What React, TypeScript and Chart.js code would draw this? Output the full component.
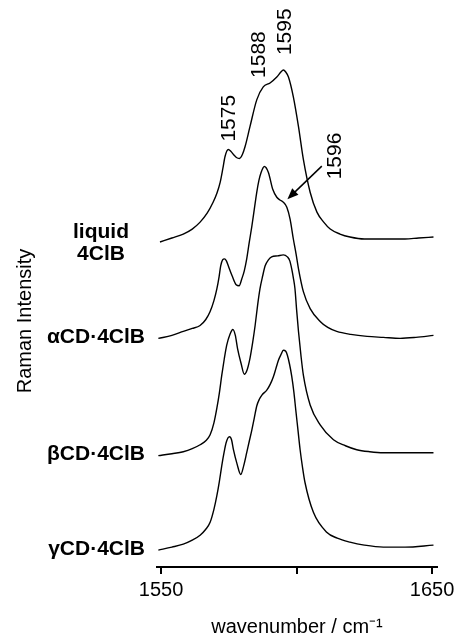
import React, { useEffect, useRef } from "react";
import { Chart, registerables } from "chart.js";

Chart.register(...registerables);

const FONT = "'Liberation Sans', Arial, Helvetica, sans-serif";

// ---- data (wavenumber in cm^-1, intensity in arbitrary units) ----
const liquidWn = [1549.6, 1554, 1558.2, 1561.5, 1564.4, 1567, 1569.2, 1570.6, 1571.8, 1572.8, 1573.6, 1574.8, 1575.8, 1576.7, 1577.8, 1578.9, 1580, 1581, 1582.8, 1585.3, 1587.7, 1590.2, 1592.7, 1594.2, 1595.1, 1596, 1597, 1598.8, 1600.7, 1602.5, 1605, 1607.5, 1610, 1612.4, 1616, 1619.7, 1625, 1632, 1640, 1645, 1650.5];
const liquidI = [-2, 2, 6, 11, 18, 27, 38, 47, 58, 72, 84, 91, 89, 86, 83, 82, 86, 94, 114, 141, 154, 158, 164, 169, 171, 169, 164, 144, 114, 81, 48, 28, 18, 11, 6, 3, 1, 1, 1, 2, 3];

const alphaWn = [1549.0, 1554, 1558.2, 1561.5, 1564.4, 1566.5, 1568.1, 1569.5, 1570.6, 1571.4, 1572.0, 1572.7, 1573.4, 1574.1, 1574.8, 1576.2, 1577.7, 1578.8, 1579.8, 1580.7, 1581.6, 1582.5, 1583.5, 1584.4, 1585.3, 1586.1, 1586.9, 1588.1, 1589.6, 1591.2, 1592.7, 1594, 1595.1, 1596.4, 1597.6, 1598.8, 1599.8, 1600.7, 1602.5, 1605, 1608.7, 1611.5, 1614.8, 1620, 1626, 1632, 1638.2, 1644, 1650.5];
const alphaI = [-1, 2, 6, 9, 12, 18, 26, 37, 49, 61, 72, 78, 79, 77, 72, 62, 53, 52, 59, 67, 79, 95, 112, 129, 146, 158, 166, 172, 166, 149, 141, 138, 136, 131, 119, 99, 84, 69, 46, 29, 16, 10, 6, 3, 1, 0, -1, 0, 2];

const betaWn = [1549.0, 1554, 1558.2, 1561.5, 1564.4, 1566.5, 1568.1, 1569.5, 1570.6, 1571.5, 1572.4, 1573.3, 1574.2, 1575.4, 1576.5, 1577.4, 1578.2, 1579.5, 1580.7, 1581.7, 1582.8, 1583.8, 1584.7, 1585.6, 1586.5, 1587.5, 1588.4, 1589.6, 1590.8, 1593, 1595.1, 1596.6, 1597.5, 1598.2, 1598.8, 1599.4, 1600.0, 1600.7, 1601.6, 1602.5, 1605, 1608.7, 1613.6, 1618, 1622.2, 1627, 1632, 1640, 1650.5];
const betaI = [-1, 1, 3, 6, 10, 14, 20, 32, 47, 62, 80, 96, 110, 121, 126, 120, 107, 92, 81, 85, 97, 113, 130, 150, 167, 180, 190, 196, 199, 200, 201, 199, 195, 187, 178, 167, 146, 124, 100, 80, 50, 30, 15, 9, 5, 3, 2, 2, 2];

const gammaWn = [1549.0, 1554, 1558.2, 1561.5, 1564.4, 1566.5, 1568.1, 1569.5, 1570.6, 1571.5, 1572.4, 1573.3, 1574.0, 1575.2, 1576.0, 1576.7, 1578.0, 1579.4, 1580.5, 1581.6, 1582.5, 1583.5, 1584.4, 1585.3, 1586.3, 1587.2, 1589.0, 1590.3, 1591.5, 1592.4, 1593.3, 1594.3, 1595.1, 1596.0, 1596.6, 1597.4, 1598.2, 1599.0, 1599.7, 1600.5, 1601.3, 1602.2, 1603.1, 1606.2, 1611.1, 1615, 1619.7, 1625, 1632, 1640, 1650.5];
const gammaI = [-1, 2, 5, 9, 14, 20, 27, 40, 54, 68, 84, 98, 107, 113, 110, 100, 86, 75, 84, 97, 108, 120, 132, 144, 151, 155, 160, 166, 174, 182, 190, 196, 200, 199, 195, 186, 174, 158, 140, 120, 100, 82, 67, 37, 17, 11, 7, 4, 2, 2, 4];

const seriesNames = ["liquid\n4ClB", "αCD·4ClB", "βCD·4ClB", "γCD·4ClB"];
const seriesOffsets = [329, 231, 113, 18];
const seriesWn = [liquidWn, alphaWn, betaWn, gammaWn];
const seriesI = [liquidI, alphaI, betaI, gammaI];

const xTickValues = [1550, 1600, 1650];
const xTickLabels = ["1550", "", "1650"];

const peakLabels = ["1575", "1588", "1595", "1596"];
const peakLabelWn = [1575.1, 1586.3, 1595.9, 1614.4];
const peakLabelY = [428, 492, 515, 390];
const arrowFrom = [1609.3, 403.3];
const arrowTo = [1596.6, 370];

const annotationPlugin = {
  id: "ramanAnnotations",
  afterDatasetsDraw(chart: any) {
    const { ctx, chartArea, scales } = chart;
    const x = scales.x;
    const y = scales.y;
    ctx.save();
    ctx.fillStyle = "#000";
    ctx.strokeStyle = "#000";

    // series labels
    ctx.font = `bold 21px ${FONT}`;
    ctx.textBaseline = "middle";
    seriesNames.forEach((name, i) => {
      const lines = name.split("\n");
      const py = y.getPixelForValue(seriesOffsets[i]);
      if (lines.length === 1) {
        ctx.textAlign = "right";
        ctx.fillText(name, chartArea.left - 12, py);
      } else {
        ctx.textAlign = "center";
        lines.forEach((ln, j) => {
          ctx.fillText(ln, chartArea.left - 56, py + 3 + (j - (lines.length - 1) / 2) * 22);
        });
      }
    });

    // peak labels (rotated)
    ctx.font = `21px ${FONT}`;
    peakLabels.forEach((t, i) => {
      ctx.save();
      ctx.translate(x.getPixelForValue(peakLabelWn[i]), y.getPixelForValue(peakLabelY[i]));
      ctx.rotate(-Math.PI / 2);
      ctx.textAlign = "left";
      ctx.textBaseline = "middle";
      ctx.fillText(t, 0, 0);
      ctx.restore();
    });

    // arrow
    const x1 = x.getPixelForValue(arrowFrom[0]);
    const y1 = y.getPixelForValue(arrowFrom[1]);
    const x2 = x.getPixelForValue(arrowTo[0]);
    const y2 = y.getPixelForValue(arrowTo[1]);
    const ang = Math.atan2(y2 - y1, x2 - x1);
    const headLen = 11;
    const headW = 4.5;
    ctx.lineWidth = 1.5;
    ctx.beginPath();
    ctx.moveTo(x1, y1);
    ctx.lineTo(x2 - Math.cos(ang) * headLen * 0.8, y2 - Math.sin(ang) * headLen * 0.8);
    ctx.stroke();
    ctx.beginPath();
    ctx.moveTo(x2, y2);
    ctx.lineTo(
      x2 - Math.cos(ang) * headLen + Math.sin(ang) * headW,
      y2 - Math.sin(ang) * headLen - Math.cos(ang) * headW
    );
    ctx.lineTo(
      x2 - Math.cos(ang) * headLen - Math.sin(ang) * headW,
      y2 - Math.sin(ang) * headLen + Math.cos(ang) * headW
    );
    ctx.closePath();
    ctx.fill();
    ctx.restore();
  },
};

export default function App() {
  const ref = useRef<HTMLCanvasElement | null>(null);

  useEffect(() => {
    if (!ref.current) return;
    const datasets = seriesNames.map((name, i) => ({
      label: name.replace("\n", " "),
      data: seriesWn[i].map((w, k) => ({ x: w, y: seriesI[i][k] + seriesOffsets[i] })),
      borderColor: "#000",
      backgroundColor: "#000",
      borderWidth: 1.4,
      pointRadius: 0,
      cubicInterpolationMode: "monotone" as const,
      fill: false,
      clip: false as any,
    }));

    const chart = new Chart(ref.current, {
      type: "line",
      data: { datasets },
      plugins: [annotationPlugin],
      options: {
        animation: false,
        responsive: false,
        devicePixelRatio: 1,
        layout: { padding: { top: 75, right: 21, bottom: 1, left: 0 } },
        plugins: { legend: { display: false }, tooltip: { enabled: false } },
        scales: {
          x: {
            type: "linear",
            min: 1548.5,
            max: 1651.8,
            afterBuildTicks: (scale: any) => {
              scale.ticks = xTickValues.map((v) => ({ value: v }));
            },
            ticks: {
              color: "#000",
              font: { family: FONT, size: 20, lineHeight: 1.3 },
              padding: 3,
              maxRotation: 0,
              autoSkip: false,
              callback: (value: any) => {
                const idx = xTickValues.indexOf(Number(value));
                return idx >= 0 ? xTickLabels[idx] : "";
              },
            },
            grid: {
              display: true,
              drawOnChartArea: false,
              drawTicks: true,
              tickLength: 7,
              color: "#000",
              lineWidth: 2,
            },
            border: { display: true, color: "#000", width: 2 },
            title: {
              display: true,
              text: "wavenumber / cm⁻¹",
              color: "#000",
              font: { family: FONT, size: 20, lineHeight: 1 },
              padding: { top: 11, bottom: 0 },
            },
          },
          y: {
            type: "linear",
            min: 0,
            max: 495,
            ticks: { display: false },
            grid: { display: false, drawTicks: false },
            border: { display: false },
            title: {
              display: true,
              text: "Raman Intensity",
              color: "#000",
              font: { family: FONT, size: 20, lineHeight: 1 },
              padding: { top: 15, bottom: 122 },
            },
          },
        },
      },
    });
    return () => chart.destroy();
  }, []);

  return (
    <div style={{ position: "fixed", left: 0, top: 0, width: 458, height: 638, background: "#fff" }}>
      <canvas ref={ref} width={458} height={638} style={{ width: 458, height: 638, display: "block" }} />
    </div>
  );
}
